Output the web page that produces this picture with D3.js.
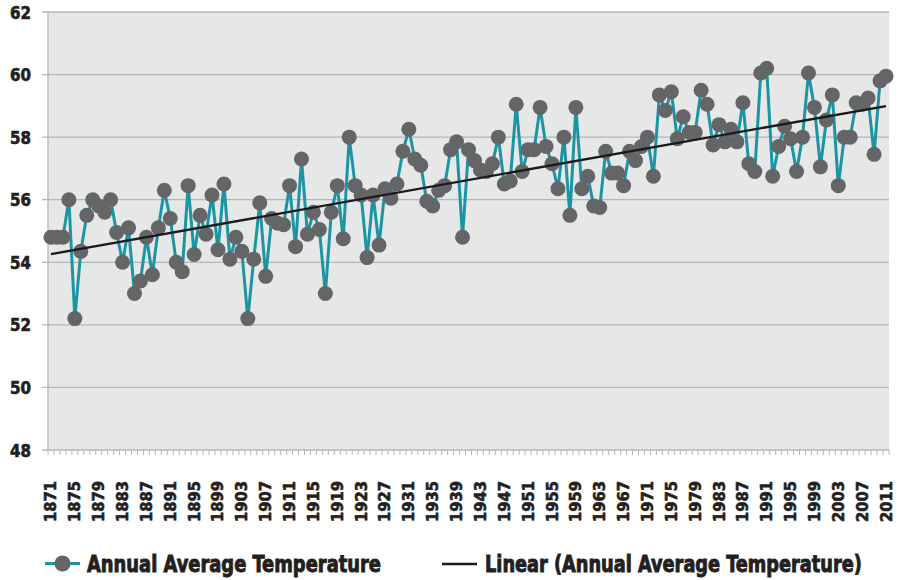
<!DOCTYPE html>
<html><head><meta charset="utf-8">
<script src="https://cdn.jsdelivr.net/npm/d3@7"></script>
<style>body{margin:0;background:#fff}</style>
</head><body><svg id="c" width="899" height="580"></svg>
<script>
const years = d3.range(1871, 2012);
const temps = [
54.8, 54.8, 54.8, 56.0, 52.2, 54.35, 55.5, 56.0, 55.8, 55.6,
56.0, 54.95, 54.0, 55.1, 53.0, 53.4, 54.8, 53.6, 55.1, 56.3,
55.4, 54.0, 53.7, 56.45, 54.25, 55.5, 54.9, 56.15, 54.4, 56.5,
54.1, 54.8, 54.35, 52.2, 54.1, 55.9, 53.55, 55.4, 55.25, 55.2,
56.45, 54.5, 57.3, 54.9, 55.6, 55.05, 53.0, 55.6, 56.45, 54.75,
58.0, 56.45, 56.15, 54.15, 56.15, 54.55, 56.35, 56.05, 56.5, 57.55,
58.25, 57.3, 57.1, 55.95, 55.8, 56.3, 56.45, 57.6, 57.85, 54.8,
57.6, 57.25, 56.95, 56.9, 57.15, 58.0, 56.5, 56.6, 59.05, 56.9,
57.6, 57.6, 58.95, 57.7, 57.15, 56.35, 58.0, 55.5, 58.95, 56.35,
56.75, 55.8, 55.75, 57.55, 56.85, 56.85, 56.45, 57.55, 57.25, 57.7,
58.0, 56.75, 59.35, 58.85, 59.45, 57.95, 58.65, 58.15, 58.15, 59.5,
59.05, 57.75, 58.4, 57.85, 58.25, 57.85, 59.1, 57.15, 56.9, 60.05,
60.2, 56.75, 57.7, 58.35, 57.95, 56.9, 58.0, 60.05, 58.95, 57.05,
58.55, 59.35, 56.45, 58.0, 58.0, 59.1, 59.05, 59.25, 57.45, 59.8,
59.95
];
const yTicks = [48, 50, 52, 54, 56, 58, 60, 62];
const xTickYears = d3.range(1871, 2012, 4);
const seriesName = "Annual Average Temperature";
const trendName = "Linear (Annual Average Temperature)";

const data = years.map((yr, i) => ({yr, v: temps[i], i}));
// least squares trend
const n = data.length;
const mx = d3.mean(data, d => d.i), my = d3.mean(data, d => d.v);
const slope = d3.sum(data, d => (d.i - mx) * (d.v - my)) / d3.sum(data, d => (d.i - mx) ** 2);
const icpt = my - slope * mx;

const svg = d3.select("#c");
const L = 48, R = 889, T = 12, B = 450;
const x = d3.scaleBand().domain(years).range([L, R]).padding(0);
const bw = x.bandwidth();
const cx = yr => x(yr) + bw / 2;
const y = d3.scaleLinear().domain([48, 62]).range([B, T]);

const FONT = "'DejaVu Sans Condensed','DejaVu Sans',sans-serif";
const NARROW = "'Liberation Sans Narrow','DejaVu Sans Condensed',sans-serif";
const TXT = "#231f20";

svg.append("rect").attr("x", L).attr("y", T).attr("width", R - L).attr("height", B - T).attr("fill", "#e6e7e7");

// gridlines + y ticks
svg.append("g").selectAll("line").data(yTicks).join("line")
  .attr("x1", L - 6).attr("x2", R).attr("y1", d => y(d)).attr("y2", d => y(d))
  .attr("stroke", "#b6b6b6").attr("stroke-width", 1.3);
svg.append("line").attr("x1", L).attr("x2", L).attr("y1", T).attr("y2", B)
  .attr("stroke", "#b6b6b6").attr("stroke-width", 1.3);
svg.append("g").selectAll("text").data(yTicks).join("text")
  .attr("x", 31).attr("y", d => y(d) + 6.5).attr("text-anchor", "end")
  .attr("font-family", FONT).attr("font-weight", "bold").attr("font-size", 17.5)
  .attr("textLength", 21).attr("lengthAdjust", "spacingAndGlyphs")
  .attr("fill", TXT).attr("stroke", TXT).attr("stroke-width", 0.6).text(d => d);

// x minor ticks at category boundaries
const bounds = years.map(yr => x(yr)).concat([R]);
svg.append("g").selectAll("line").data(bounds).join("line")
  .attr("x1", d => d).attr("x2", d => d).attr("y1", B).attr("y2", B + 5)
  .attr("stroke", "#b6b6b6").attr("stroke-width", 1);

svg.append("g").selectAll("text").data(xTickYears).join("text")
  .attr("transform", d => `translate(${cx(d) + 5.5},481) rotate(-90)`)
  .attr("text-anchor", "end")
  .attr("font-family", FONT).attr("font-weight", "bold").attr("font-size", 15.5)
  .attr("textLength", 41).attr("lengthAdjust", "spacingAndGlyphs")
  .attr("fill", TXT).attr("stroke", TXT).attr("stroke-width", 0.6).text(d => d);

// series line
svg.append("path").datum(data)
  .attr("d", d3.line().x(d => cx(d.yr)).y(d => y(d.v)))
  .attr("fill", "none").attr("stroke", "#1b95a4").attr("stroke-width", 3).attr("stroke-linejoin", "round");
svg.append("g").selectAll("circle").data(data).join("circle")
  .attr("cx", d => cx(d.yr)).attr("cy", d => y(d.v)).attr("r", 7.5).attr("fill", "#646567");

// trend line
svg.append("line")
  .attr("x1", cx(years[0])).attr("y1", y(icpt))
  .attr("x2", cx(years[n - 1])).attr("y2", y(icpt + slope * (n - 1)))
  .attr("stroke", "#1a1a1a").attr("stroke-width", 2.3);

// legend
const lg = svg.append("g");
function fitText(txt, x0, y0, target) {
  const t = lg.append("text").attr("font-family", NARROW).attr("font-weight", "bold")
    .attr("font-size", 23).attr("fill", TXT).attr("stroke", TXT).attr("stroke-width", 0.9).text(txt);
  const w = t.node().getComputedTextLength();
  t.attr("transform", `translate(${x0},${y0}) scale(${target / w},1)`);
}
lg.append("line").attr("x1", 45).attr("x2", 80).attr("y1", 563.5).attr("y2", 563.5)
  .attr("stroke", "#1b95a4").attr("stroke-width", 3);
lg.append("circle").attr("cx", 62.5).attr("cy", 563.5).attr("r", 8).attr("fill", "#646567");
fitText(seriesName, 87, 571.5, 294);
lg.append("line").attr("x1", 442).attr("x2", 477).attr("y1", 564).attr("y2", 564)
  .attr("stroke", "#1a1a1a").attr("stroke-width", 2.3);
fitText(trendName, 485, 571.5, 377);
</script></body></html>
